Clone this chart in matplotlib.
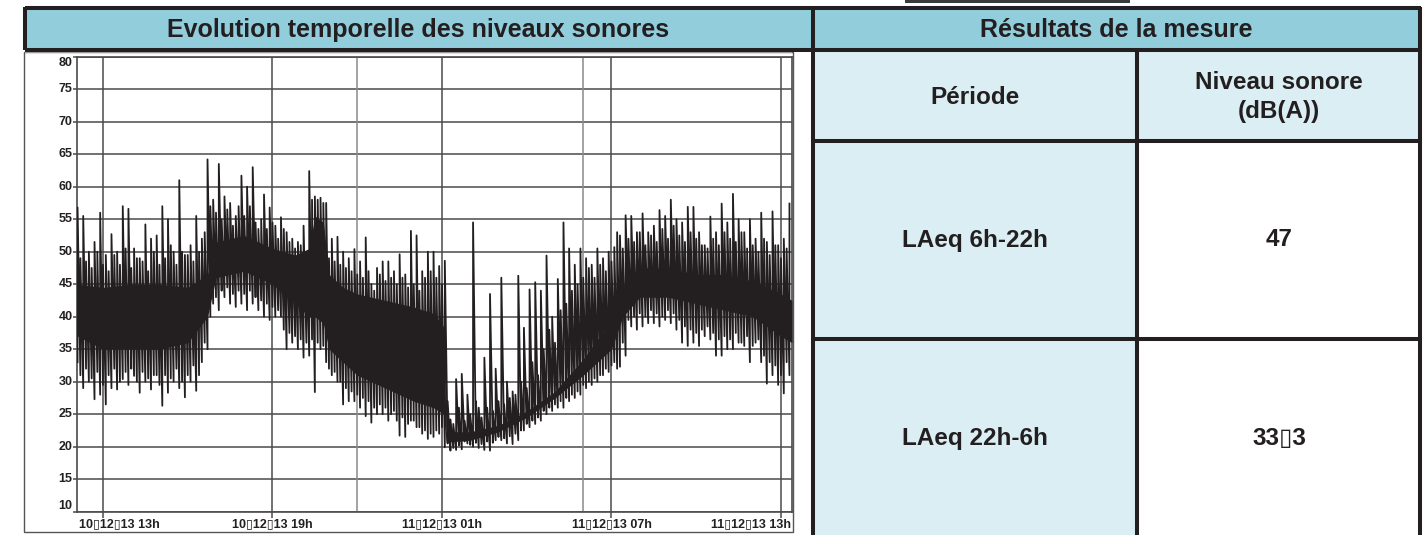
import numpy as np
import matplotlib
matplotlib.use("Agg")
import matplotlib.pyplot as plt
from matplotlib.patches import Rectangle
from matplotlib.lines import Line2D

plt.rcParams['font.family'] = ['Liberation Sans', 'DejaVu Sans']

# sound level trace, dB(A): max / min every 0.1 h from 12.1 h
start_hour = 12.1
step_hour = 0.1
level_max = [
    # 12.1 - 16.9
    56.8, 49, 55.5, 48.5, 50, 47.5, 51.5, 50, 56, 48, 49.5, 47, 52.7, 49.5, 50, 48, 57, 50.5,
    56.6, 47.5, 50.5, 49, 49, 48.5, 54.2, 47, 52, 50, 52.5, 48, 57, 49, 55, 51, 50, 48, 61, 50,
    49.5, 49.5, 51, 48.5, 55.5, 50, 52, 53, 64.2, 57, 58,
    56,
    # 17.1 - 24.5
    63.5, 55, 58.5, 56.5, 57.5, 54, 55.5, 57, 61.7, 55.5, 60, 57, 63, 54.5, 53.5, 55, 58.8, 53.5,
    56.8, 54.5, 54, 52, 55.3, 53.5, 53, 51.5, 52, 50.5, 51.5, 51, 54, 50, 62.4, 58, 58.5, 58,
    58.3, 57.5, 57.5, 49, 52, 48.5, 52.3, 48, 50, 47.5, 49, 47, 50.4, 46.5, 48.5, 46, 52.2, 47,
    45, 44, 47.5, 46.5, 48.5, 45.5, 48.5, 46, 47, 45, 49.6, 46, 46.5, 44.5, 53.2, 45, 52.5, 44,
    47, 46, 50,
    47,
    # 24.7 - 31.1
    50, 46, 47.8, 45, 48.6, 27, 24.2, 23.5, 30.4, 26, 31.2, 24, 28, 25, 54.5, 27, 26, 24.5, 33.7,
    26, 43.5, 25.5, 32, 27, 46, 26.5, 30, 27.5, 28.5, 28, 46.3, 30, 38.3, 29, 44.2, 33, 45.3, 31,
    44, 35, 49.4, 38, 40, 36, 45.8, 41, 54.5, 42, 50.5, 44, 48, 45, 50.5, 46, 49, 47.5, 48, 46,
    50.5, 48, 49, 47, 50, 48.5, 50.7,
    53,
    # 31.3 - 37.3
    52.5, 50.5, 55.6, 52, 55.5, 51.5, 53, 53, 55.9, 51, 53, 52.5, 54, 51.5, 56.4, 53.5, 55.5, 52,
    58, 54, 55, 52.5, 54.5, 51.5, 56.9, 53, 56.9, 52, 53, 51, 51, 50.5, 55.4, 52, 53, 51, 57.4,
    53, 54.5, 52, 58.9, 51.5, 55, 53, 53, 50.5, 55, 51, 52, 50, 56, 52, 51.5, 49.5, 56.2, 51, 51,
    49, 52, 50.5, 57.4,
]
level_min = [
    # 12.1 - 16.9
    33, 31, 29, 32, 30, 30.5, 27.3, 31.5, 28, 29.5, 26.5, 31, 29, 32, 28.8, 30, 30.4, 31.5, 29.5,
    32, 30.9, 30, 28.3, 31.5, 30, 30.5, 28.8, 31, 31, 29.5, 26.3, 31, 28.3, 30.5, 30, 32, 29, 30,
    27.6, 31, 30, 32.5, 28.6, 31, 33, 36, 35, 40, 42,
    43,
    # 17.1 - 24.5
    41, 44, 43, 44.5, 42, 43.5, 41.5, 44, 42, 43.5, 41, 44, 42, 43, 41, 42.5, 40, 42, 39.5, 41.5,
    40, 41, 40, 38, 35, 37.5, 36, 37, 35, 36.5, 33.7, 36, 34, 36.5, 28.4, 36, 35, 35.5, 33, 32,
    31, 31.5, 30, 30, 26.5, 29, 27, 28.5, 27, 28, 26, 27.5, 24.7, 27, 23.7, 26, 25, 26.5, 25, 26,
    24, 25, 25.5, 24, 21.7, 24.5, 21.5, 23.5, 24, 24, 23, 23, 22, 22.5, 21.2,
    22,
    # 24.7 - 31.1
    21.5, 22.5, 22, 23, 19.9, 20.5, 19.4, 19.8, 19.5, 20.2, 19.6, 20.8, 20.5, 20.3, 20, 20.6, 19.8,
    20.4, 19.5, 20.8, 19.4, 20.6, 21, 21.5, 21, 21.3, 20.5, 21.6, 20.4, 22, 21, 22.5, 22.5, 23.5,
    23, 24, 23.5, 24.5, 24, 25.5, 25, 26, 25.5, 26.5, 26, 27, 26, 27.5, 27, 28, 27.5, 28.5, 28,
    29.5, 29, 30, 29.5, 30.5, 30, 31, 31, 32, 31.5, 32.5, 33,
    32,
    # 31.3 - 37.3
    32.3, 36, 34, 39.5, 38.5, 40, 38, 40.5, 38.5, 40, 39, 41, 39, 40.5, 38.5, 40, 39.5, 41, 39,
    40.5, 38, 39.5, 36, 38.5, 35.5, 38, 36, 37.5, 35.5, 38, 37, 38.5, 36.5, 37.5, 34, 36.5, 34,
    37, 35, 36.5, 35, 37.5, 36, 36, 35.5, 37, 33, 35.5, 36, 36.5, 33, 34, 29.7, 33, 31, 32.5,
    29.5, 31, 28.2, 33, 31,
]
assert len(level_max) == len(level_min)
hours = start_hour + step_hour * np.arange(len(level_max))

# dense body of the trace
core_hours = [12.1, 13, 14, 15, 16, 16.7, 17.0, 18, 19, 19.8, 20.3, 20.5, 20.8, 21.0, 21.5,
              22, 23, 24, 24.7, 25.05, 25.15, 26, 27, 28, 29, 30, 31, 31.4, 32, 33, 34, 35,
              36, 37, 37.39]
core_top = [45, 44.5, 45, 45, 44.5, 46.5, 51.5, 52.5, 50.5, 49.5, 50.5, 55.5, 54.5, 46.5, 44.5,
            43.5, 42.5, 41.5, 40.5, 38.5, 22.3, 22.3, 23.3, 25.5, 28.5, 33.5, 39.5, 44.5, 47.5,
            47.5, 46.5, 46.5, 45.5, 43.5, 42.5]
core_bot = [37, 35, 35, 35, 36, 40, 46, 47, 45, 42, 40, 40, 39, 35, 33,
            31, 29, 27, 26, 25, 20.7, 21, 22.3, 24.5, 27.5, 31, 35, 40, 43, 43, 42, 41,
            40, 37, 36]

tick_hours = [13, 19, 25, 31, 37]
tick_labels = ['10\u25af12\u25af13 13h', '10\u25af12\u25af13 19h', '11\u25af12\u25af13 01h',
               '11\u25af12\u25af13 07h', '11\u25af12\u25af13 13h']
period_hours = [22, 30]
y_ticks = list(range(10, 85, 5))

periods = ['LAeq 6h-22h', 'LAeq 22h-6h']
levels = ['47', '33\u25af3']

DARK = '#231f20'
HEAD = '#92cddc'
LIGHT = '#daeef3'

W, H = 1424, 535
fig = plt.figure(figsize=(W / 100, H / 100), dpi=100)
fig.patch.set_facecolor('white')


def fx(x):
    return x / W


def fy(y):
    return 1 - y / H


def box(x0, y0, x1, y1, fc):
    fig.add_artist(Rectangle((fx(x0), fy(y1)), (x1 - x0) / W, (y1 - y0) / H,
                             transform=fig.transFigure, facecolor=fc,
                             edgecolor='none', zorder=0))


def line(x0, y0, x1, y1, lw=2.9, color=DARK, z=6):
    fig.add_artist(Line2D([fx(x0), fx(x1)], [fy(y0), fy(y1)], transform=fig.transFigure,
                          lw=lw, color=color, solid_capstyle='butt', zorder=z))


# header bands and table cells
box(25, 9, 812, 49, HEAD)
box(812, 9, 1421, 49, HEAD)
box(812, 49, 1421, 141, LIGHT)
box(812, 141, 1137, 535, LIGHT)
box(905, 0, 1130, 3, '#3a3a3a')

# chart frame
fig.add_artist(Rectangle((fx(24), fy(532)), 769 / W, 480 / H, transform=fig.transFigure,
                         facecolor='none', edgecolor='#555555', lw=1.0, zorder=6))
line(25, 52, 792, 52, lw=1.4, color='#a0a0a0')

# borders
line(25, 8, 1421, 8)
line(25, 49.5, 1421, 49.5)
line(25, 7, 25, 50)
line(812.5, 7, 812.5, 535)
line(1419.5, 7, 1419.5, 535)
line(1137, 49, 1137, 535)
line(812, 141, 1421, 141)
line(812, 339, 1421, 339)

head = dict(ha='center', va='center', fontsize=18, fontweight='bold', color=DARK)
cell = dict(ha='center', va='center', fontsize=17.5, fontweight='bold', color=DARK)
fig.text(fx(418), fy(30), 'Evolution temporelle des niveaux sonores', **head)
fig.text(fx(1116), fy(30), 'Résultats de la mesure', **head)
fig.text(fx(975), fy(97), 'Période', **cell)
fig.text(fx(1279), fy(97), 'Niveau sonore\n(dB(A))', linespacing=1.3, **cell)
for i, (p, v) in enumerate(zip(periods, levels)):
    yc = 240 + i * 198
    fig.text(fx(975), fy(yc), p, **cell)
    fig.text(fx(1279), fy(yc), v, **cell)

# chart
ax = fig.add_axes([fx(77), fy(511.7), 715 / W, 455 / H])
ax.set_xlim(12.08, 37.39)
ax.set_ylim(10, 80)

ax.fill_between(core_hours, core_bot, core_top, color=DARK, lw=0, zorder=3)
xs = np.repeat(hours, 2)
ys = np.column_stack([level_min, level_max]).ravel()
ax.plot(xs, ys, color=DARK, lw=1.3, zorder=3)

ax.set_yticks(y_ticks)
ax.set_xticks(tick_hours)
ax.set_xticklabels([])
ax.set_yticklabels([])
ax.grid(True, color='#4a4a4a', lw=1.1, zorder=1)
ax.set_axisbelow(True)
for h in period_hours:
    ax.axvline(h, color='#8a8a8a', lw=1.1, zorder=1)
ax.tick_params(axis='x', direction='out', length=4, width=1.1, color='#4a4a4a')
ax.tick_params(axis='y', direction='out', length=3, width=1.1, color='#4a4a4a')
for s in ax.spines.values():
    s.set_color('#4a4a4a')
    s.set_linewidth(1.2)

lab = dict(fontsize=9, fontweight='bold', color=DARK)
for i, (h, t) in enumerate(zip(tick_hours, tick_labels)):
    if i == 0:
        ax.text(12.15, -0.014, t, transform=ax.get_xaxis_transform(), ha='left', va='top', **lab)
    elif i == len(tick_hours) - 1:
        ax.text(37.35, -0.014, t, transform=ax.get_xaxis_transform(), ha='right', va='top', **lab)
    else:
        ax.text(h, -0.014, t, transform=ax.get_xaxis_transform(), ha='center', va='top', **lab)
for v in y_ticks:
    va = 'top' if v == y_ticks[-1] else ('bottom' if v == y_ticks[0] else 'center')
    ax.text(-0.006, v, str(v), transform=ax.get_yaxis_transform(), ha='right', va=va, **lab)

fig.savefig('out.png', dpi=100)
